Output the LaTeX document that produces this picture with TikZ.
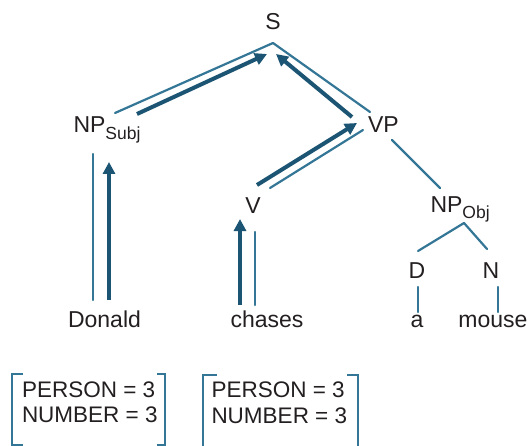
\documentclass[tikz,border=0pt]{standalone}
\usepackage{fontspec}
\setmainfont{Liberation Sans}
\usetikzlibrary{arrows.meta,calc}
\definecolor{thinc}{RGB}{52,118,150}
\definecolor{thickc}{RGB}{28,85,115}
\definecolor{txt}{RGB}{35,31,32}
\newcommand{\sbs}[1]{\raisebox{-6.5pt}{\fontsize{17.5}{17.5}\selectfont #1}}
\begin{document}
\begin{tikzpicture}[x=1pt,y=-1pt,
  lbl/.style={inner sep=0pt,outer sep=0pt,text=txt,font=\fontsize{23}{27}\selectfont},
  feat/.style={lbl,font=\fontsize{22.5}{27}\selectfont},
  tree/.style={draw=thinc,line width=2.2pt,line cap=round},
  flow/.style={draw=thickc,line width=4pt,-{Triangle[width=12pt,length=12pt]}},
  brk/.style={draw=thinc,line width=2.2pt}]
\useasboundingbox (0,0) rectangle (529,446);
% nodes
\node[lbl,anchor=base] (S) at (273,30) {S};
\node[lbl,anchor=base west] (NPs) at (73.5,133) {NP\sbs{Subj}};
\node[lbl,anchor=base west] (VP) at (368,133) {VP};
\node[lbl,anchor=base] (V) at (253,213) {V};
\node[lbl,anchor=base west] (NPo) at (430.5,212) {NP\sbs{Obj}};
\node[lbl,anchor=base] (D) at (417,278) {D};
\node[lbl,anchor=base] (N) at (491,278) {N};
\node[lbl,anchor=base] (Don) at (104.5,327) {Donald};
\node[lbl,anchor=base] (cha) at (267,327) {chases};
\node[lbl,anchor=base] (a) at (417,327) {a};
\node[lbl,anchor=base] (mou) at (493,327) {mouse};
\node[feat,anchor=base west] (p1) at (22,397) {PERSON = 3};
\node[feat,anchor=base west] (n1) at (22,422) {NUMBER = 3};
\node[feat,anchor=base west] (p2) at (211.5,397) {PERSON = 3};
\node[feat,anchor=base west] (n2) at (211.5,423) {NUMBER = 3};
% tree lines and feature-flow arrows
\draw[tree] ($(NPs.base west)+(41.5,-20)$) -- ($(S.base)+(0,13)$);
\draw[flow] ($(NPs.base west)+(63.5,-19)$) -- ($(S.base)+(-6,24)$);
\draw[tree] ($(S.base)+(0,13)$) -- ($(VP.base west)+(2,-21)$);
\draw[flow] ($(VP.base west)+(-16,-16)$) -- ($(S.base)+(3,24)$);
\draw[flow] ($(V.base)+(4,-28)$) -- ($(VP.base west)+(-11,-10)$);
\draw[tree] ($(V.base)+(17,-25)$) -- ($(VP.base west)+(-5,-3)$);
\draw[tree] ($(NPs.base west)+(19.5,21)$) -- ($(Don.base)+(-11.5,-27)$);
\draw[flow] ($(Don.base)+(4.5,-27)$) -- ($(NPs.base west)+(35.5,29)$);
\draw[flow] ($(cha.base)+(-27,-22)$) -- ($(V.base)+(-13,6)$);
\draw[tree] ($(V.base)+(2,19)$) -- ($(cha.base)+(-12,-22)$);
\draw[tree] ($(VP.base west)+(24,7)$) -- ($(NPo.base west)+(9.5,-24)$);
\draw[tree] ($(NPo.base west)+(33.5,11)$) -- ($(D.base)+(1,-27)$);
\draw[tree] ($(NPo.base west)+(33.5,11)$) -- ($(N.base)+(-4,-29)$);
\draw[tree] ($(D.base)+(1,9)$) -- ($(a.base)+(1,-15)$);
\draw[tree] ($(N.base)+(7,9)$) -- ($(mou.base)+(5,-15)$);
% brackets
\draw[brk] (23,374) -- (12,374) -- (12,445) -- (23,445);
\draw[brk] (157,374) -- (165,374) -- (165,445) -- (157,445);
\draw[brk] (217,375) -- (203,375) -- (203,452) -- (217,452);
\draw[brk] (347,375) -- (358,375) -- (358,452) -- (347,452);
\end{tikzpicture}
\end{document}
